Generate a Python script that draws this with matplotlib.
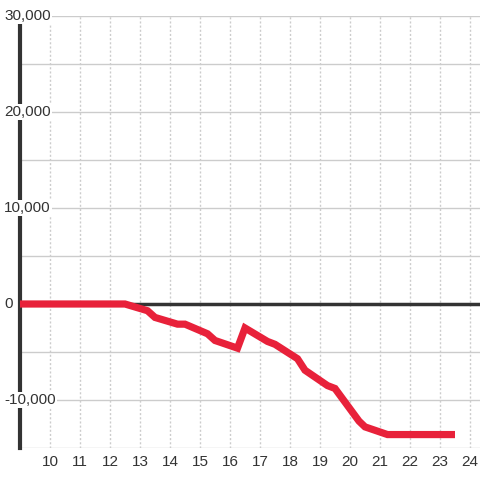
import matplotlib
matplotlib.use("Agg")
import matplotlib.pyplot as plt
from matplotlib.transforms import blended_transform_factory

x_vals = [9, 12.5, 13.25, 13.5, 14.25, 14.5, 15.25, 15.5, 16.25, 16.5, 17.25, 17.5,
          18.25, 18.5, 19.25, 19.5, 20.3, 20.5, 21.25, 23.5]
y_vals = [0, 0, -700, -1400, -2100, -2100, -3100, -3800, -4600, -2500, -3900, -4200,
          -5700, -6900, -8500, -8800, -12200, -12800, -13600, -13600]
x_ticks = list(range(10, 25))
y_label_vals = [30000, 20000, 10000, 0, -10000]
y_grid_vals = list(range(-15000, 30001, 5000))

plt.rcParams['font.family'] = ['Liberation Sans', 'DejaVu Sans']

fig = plt.figure(figsize=(4.8, 4.8), dpi=100)
ax = fig.add_axes([20/480, 32/480, 460/480, 432/480])
ax.set_xlim(9, 9 + 460/30)
ax.set_ylim(-15000, 30000)

for s in ['top', 'right', 'bottom']:
    ax.spines[s].set_visible(False)
ax.spines['left'].set_linewidth(3)
ax.spines['left'].set_color('#333333')
ax.spines['left'].set_bounds(-15000, 29200)
ax.spines['left'].set_zorder(3)

for g in y_grid_vals:
    ax.axhline(g, color='#cccccc', lw=1, zorder=1)
for t in x_ticks:
    ax.axvline(t, color='#cccccc', lw=1, ls=(0, (1.5, 1.5)), zorder=1)

ax.axhline(0, color='#333333', lw=2.5, zorder=2)
ax.plot(x_vals, y_vals, color='#e8213a', lw=5.2, solid_joinstyle='miter',
        solid_capstyle='butt', zorder=4)

ax.set_yticks([])
ax.set_xticks(x_ticks)
ax.set_xticklabels([str(t) for t in x_ticks], fontsize=11, color='#333333')
ax.tick_params(axis='x', length=0, pad=5)

tr = blended_transform_factory(fig.transFigure, ax.transData)
for v in y_label_vals:
    ax.text(4/480, v, f"{v:,}", transform=tr, ha='left', va='center', fontsize=11,
            color='#333333', zorder=6, clip_on=False,
            bbox=dict(facecolor='white', edgecolor='none', pad=1))

fig.savefig('out.png', dpi=100)
